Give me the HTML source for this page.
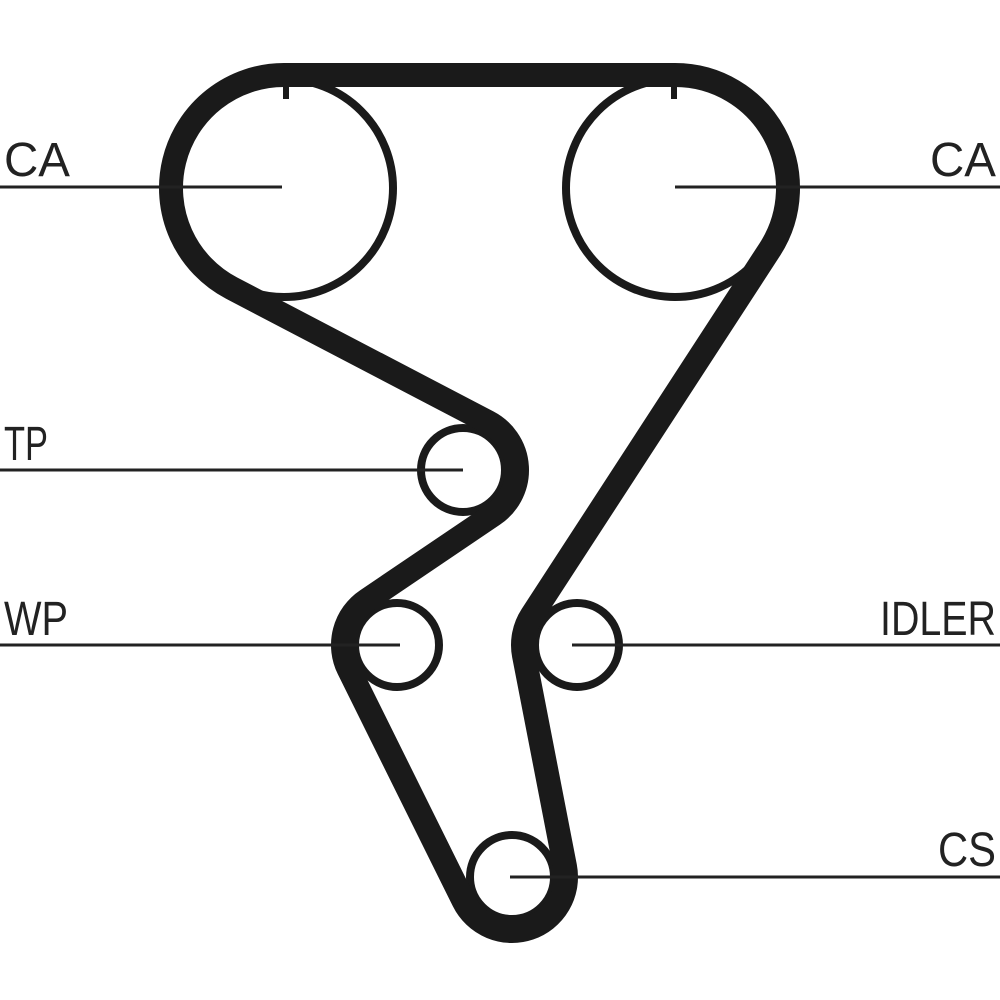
<!DOCTYPE html>
<html><head><meta charset="utf-8"><style>
html,body{margin:0;padding:0;background:#fff;}
svg{display:block;}
text{font-family:"Liberation Sans",sans-serif;font-size:48px;fill:#222;}
</style></head><body>
<svg id="s" width="1000" height="1000" viewBox="0 0 1000 1000" xmlns="http://www.w3.org/2000/svg">
<rect width="1000" height="1000" fill="#fff"/>
<g fill="none" stroke="#1a1a1a" stroke-width="8">
<circle cx="284" cy="188" r="109"/>
<circle cx="675" cy="188" r="109"/>
<circle cx="463" cy="470" r="42"/>
<circle cx="397" cy="645" r="42"/>
<circle cx="577" cy="645" r="42"/>
<circle cx="512" cy="877" r="42"/>
</g>
<path id="belt" d="" fill="none" stroke="#1a1a1a" stroke-width="24" stroke-linejoin="round"/>
<rect x="283" y="75" width="6" height="24" fill="#1a1a1a"/>
<rect x="671" y="75" width="6" height="24" fill="#1a1a1a"/>
<g stroke="#222" stroke-width="3">
<line x1="0" y1="187" x2="282" y2="187"/>
<line x1="675" y1="187" x2="1000" y2="187"/>
<line x1="0" y1="470" x2="463" y2="470"/>
<line x1="0" y1="645" x2="400" y2="645"/>
<line x1="572" y1="645" x2="1000" y2="645"/>
<line x1="510" y1="877" x2="1000" y2="877"/>
</g>
<text x="4" y="176" textLength="66" lengthAdjust="spacingAndGlyphs">CA</text>
<text x="930" y="176" textLength="66" lengthAdjust="spacingAndGlyphs">CA</text>
<text x="4" y="460" textLength="44" lengthAdjust="spacingAndGlyphs">TP</text>
<text x="4" y="635" textLength="64" lengthAdjust="spacingAndGlyphs">WP</text>
<text x="880" y="635" textLength="116" lengthAdjust="spacingAndGlyphs">IDLER</text>
<text x="938" y="866" textLength="58" lengthAdjust="spacingAndGlyphs">CS</text>
</svg>
<script>
(function(){
var P=[
 {x:284,y:188,r:113,s:1},
 {x:675,y:188,r:113,s:1},
 {x:577,y:645,r:54,s:-1},
 {x:512,y:877,r:54,s:1},
 {x:397,y:645,r:54,s:1},
 {x:463,y:470,r:54,s:-1}
];
var n=P.length, tin=[], tout=[];
for(var i=0;i<n;i++){
 var a=P[i], b=P[(i+1)%n];
 var Dx=b.x-a.x, Dy=b.y-a.y, L2=Dx*Dx+Dy*Dy;
 var k=b.r*b.s-a.r*a.s;
 var t=Math.sqrt(L2-k*k);
 var dx=(t*Dx+k*Dy)/L2, dy=(t*Dy-k*Dx)/L2;
 var Rx=-dy, Ry=dx;
 tout[i]={x:a.x-a.r*a.s*Rx,y:a.y-a.r*a.s*Ry};
 tin[(i+1)%n]={x:b.x-b.r*b.s*Rx,y:b.y-b.r*b.s*Ry};
}
var d="M"+tin[0].x+" "+tin[0].y;
for(var i=0;i<n;i++){
 var p=P[i], pi=tin[i], po=tout[i];
 var ai=Math.atan2(pi.y-p.y,pi.x-p.x), ao=Math.atan2(po.y-p.y,po.x-p.x);
 var sweep=p.s>0?1:0;
 var del=sweep?(ao-ai):(ai-ao);
 while(del<0)del+=2*Math.PI;
 var large=del>Math.PI?1:0;
 d+=" A"+p.r+" "+p.r+" 0 "+large+" "+sweep+" "+po.x+" "+po.y;
 var nx=tin[(i+1)%n];
 d+=" L"+nx.x+" "+nx.y;
}
d+=" Z";
document.getElementById("belt").setAttribute("d",d);
})();
</script>
</body></html>
